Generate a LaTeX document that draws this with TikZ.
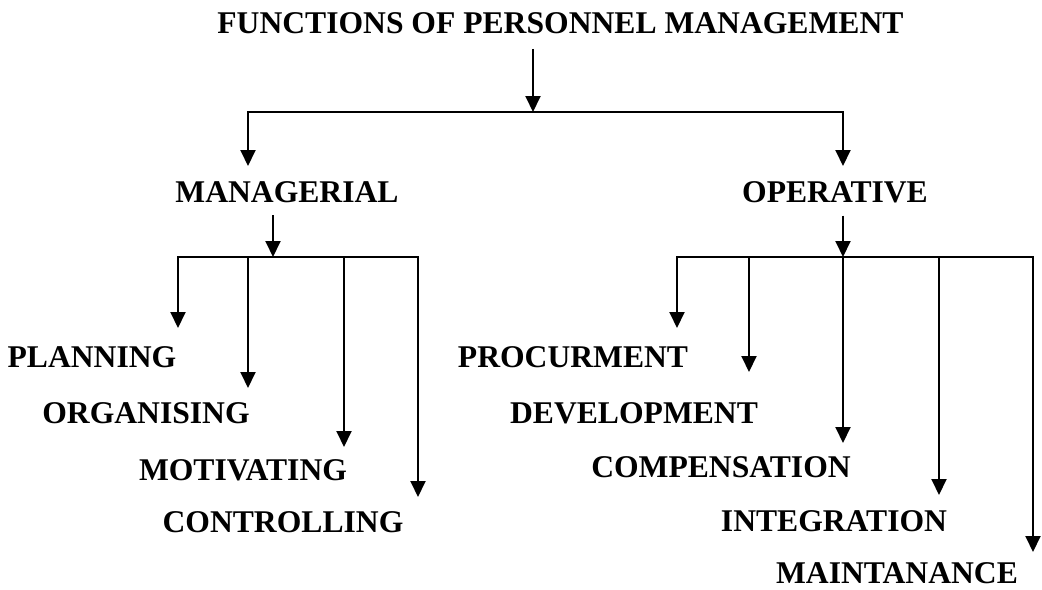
\documentclass[tikz,border=0pt]{standalone}
\usepackage{fontspec}
\setmainfont{Liberation Serif}
\usetikzlibrary{arrows.meta}
\tikzset{
  fn/.style={font=\bfseries\fontsize{18}{18}\selectfont, inner sep=0pt},
  down/.style={-{Triangle[width=3mm,length=3.2mm]}, line width=1.1pt}
}
\begin{document}
\begin{tikzpicture}[x=0.02cm,y=-0.02cm]
  \useasboundingbox (0,0) rectangle (1042,589);
  \node[fn, anchor=west] (top) at (217,23) {FUNCTIONS OF PERSONNEL MANAGEMENT};
  \node[fn] (man) at (287,192) {MANAGERIAL};
  \node[fn] (op) at (835,192) {OPERATIVE};
  \node[fn] (plan) at (92,357) {PLANNING};
  \node[fn] (org) at (146,413) {ORGANISING};
  \node[fn] (mot) at (243,470) {MOTIVATING};
  \node[fn] (con) at (283,522) {CONTROLLING};
  \node[fn] (proc) at (573,357) {PROCURMENT};
  \node[fn] (dev) at (634,413) {DEVELOPMENT};
  \node[fn] (comp) at (721,467) {COMPENSATION};
  \node[fn] (int) at (834,521) {INTEGRATION};
  \node[fn] (main) at (897,573) {MAINTANANCE};
  \coordinate (b1) at (533,112);
  \coordinate (b2) at (273,257);
  \coordinate (b3) at (843,257);
  \draw[down] ([yshift=-0.3cm]top.south -| b1) -- (b1);
  \draw[down] (b1) -| (248,166);
  \draw[down] (b1) -| (843,166);
  \draw[down] ([yshift=-0.25cm]man.south -| b2) -- (b2);
  \draw[down] (b2) -| (178,328);
  \draw[down] (b2) -| (248,388);
  \draw[down] (b2) -| (344,447);
  \draw[down] (b2) -| (418,497);
  \draw[down] ([yshift=-0.25cm]op.south -| b3) -- (b3);
  \draw[down] (b3) -| (677,328);
  \draw[down] (b3) -| (749,372);
  \draw[down] (b3) -- (843,443);
  \draw[down] (b3) -| (939,495);
  \draw[down] (b3) -| (1033,552);
\end{tikzpicture}
\end{document}
